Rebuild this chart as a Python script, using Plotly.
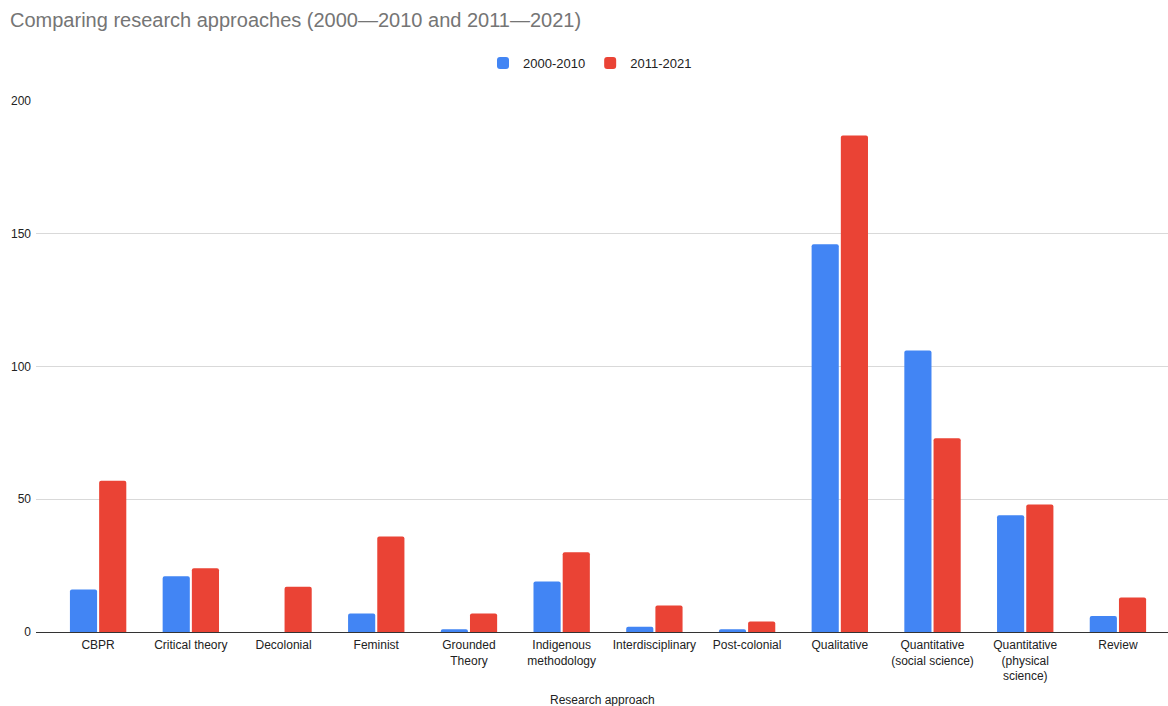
import plotly.graph_objects as go

categories = ["CBPR", "Critical theory", "Decolonial", "Feminist", "Grounded<br>Theory",
              "Indigenous<br>methodology", "Interdisciplinary", "Post-colonial", "Qualitative",
              "Quantitative<br>(social science)", "Quantitative<br>(physical<br>science)", "Review"]
series_2000_2010 = [16, 21, 0, 7, 1, 19, 2, 1, 146, 106, 44, 6]
series_2011_2021 = [57, 24, 17, 36, 7, 30, 10, 4, 187, 73, 48, 13]
y_ticks = [0, 50, 100, 150, 200]

FONT = "Liberation Sans, Arial, sans-serif"

fig = go.Figure()
fig.add_trace(go.Bar(name="2000-2010", x=categories, y=series_2000_2010,
                     marker=dict(color="#4285F4", line=dict(width=0))))
fig.add_trace(go.Bar(name="2011-2021", x=categories, y=series_2011_2021,
                     marker=dict(color="#EA4335", line=dict(width=0))))

fig.update_layout(
    width=1168, height=706,
    margin=dict(l=36, r=0, t=101, b=74, autoexpand=False),
    paper_bgcolor="white", plot_bgcolor="white",
    font=dict(family=FONT, size=12, color="#222222"),
    barmode="group", bargap=0.37, bargroupgap=0.07,
    barcornerradius=2,
    title=dict(text="Comparing research approaches (2000\u20142010 and 2011\u20142021)",
               x=10/1168, xanchor="left", xref="container",
               y=1-20/706, yanchor="middle", yref="container",
               font=dict(family=FONT, size=20, color="#757575")),
    legend=dict(orientation="h", x=(590-36)/1132, xanchor="center", y=(632-63)/531, yanchor="middle",
                font=dict(family=FONT, size=13, color="#222222"),
                itemwidth=30, traceorder="normal"),
    showlegend=True,
)
fig.update_xaxes(
    range=[-0.67, 11.54], showgrid=False, ticks="", showline=False,
    tickfont=dict(family=FONT, size=12, color="#222222"), automargin=False,
    ticklabelstandoff=4, fixedrange=True,
)
fig.update_yaxes(
    range=[0, 200], tickvals=y_ticks, showgrid=True, gridcolor="#d9d9d9", gridwidth=1,
    zeroline=True, zerolinecolor="#333333", zerolinewidth=1,
    tickfont=dict(family=FONT, size=12, color="#222222"), ticklabelstandoff=4,
    automargin=False, showline=False,
)
fig.add_annotation(text="Research approach", xref="paper", yref="paper",
                   x=0.5, y=-(700-632)/531, yanchor="middle", showarrow=False,
                   font=dict(family=FONT, size=12, color="#222222"))

fig.write_html("out.html")
